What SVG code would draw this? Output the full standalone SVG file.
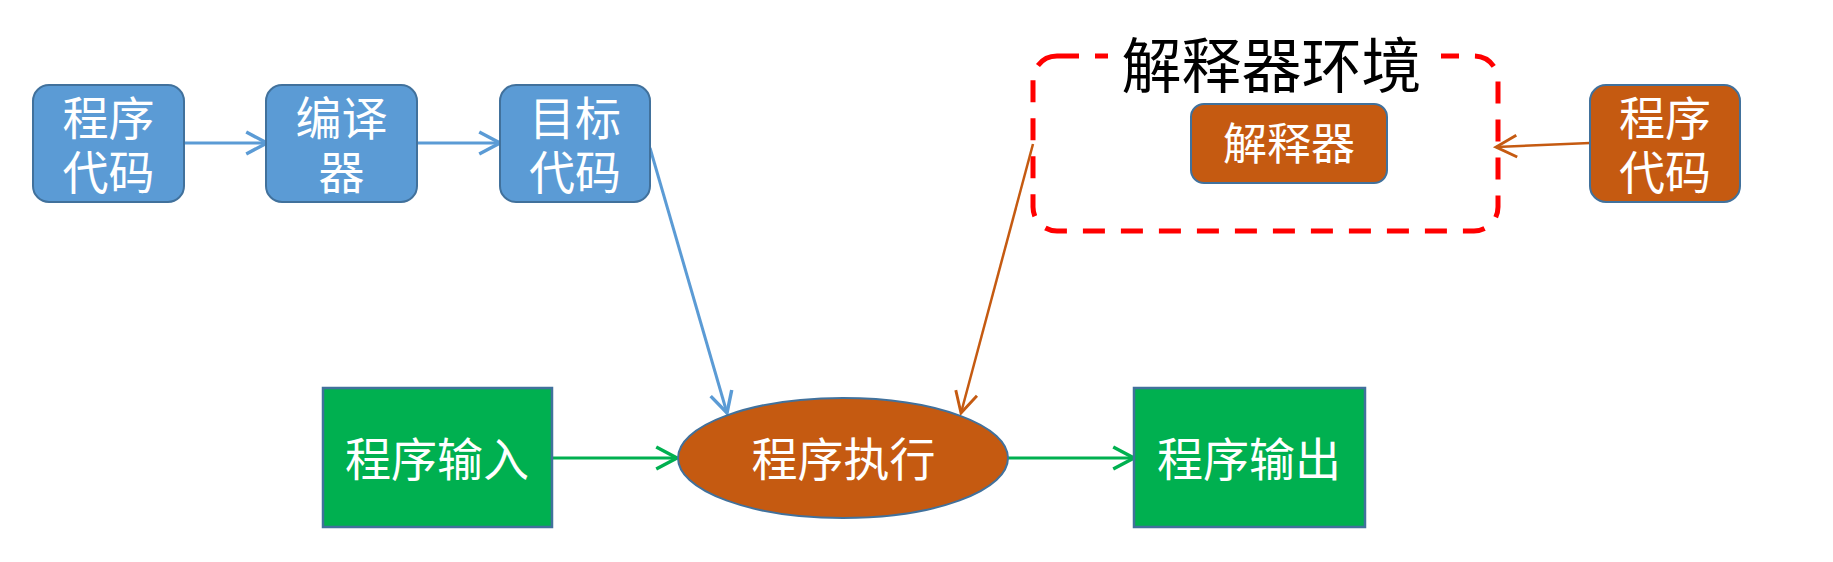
<svg xmlns="http://www.w3.org/2000/svg" width="1833" height="562" viewBox="0 0 1833 562">
<defs>
<style>
.t{font-family:"Noto Sans CJK SC","Noto Sans",sans-serif;text-anchor:middle}
.w{fill:#FFFFFF}
.blue{fill:#5B9BD5;stroke:#41719C;stroke-width:2}
.orange{fill:#C55A11;stroke:#41719C;stroke-width:2}
.green{fill:#00B050;stroke:#41719C;stroke-width:2.5}
.lb{stroke:#5B9BD5;stroke-width:3;fill:none}
.lo{stroke:#C55A11;stroke-width:2.5;fill:none}
.lg{stroke:#00B050;stroke-width:3;fill:none}
</style>
<marker id="ab" markerUnits="userSpaceOnUse" markerWidth="30" markerHeight="30" viewBox="-22 -12 26 24" refX="0" refY="0" orient="auto"><path d="M-18 -9.5 L0 0 L-18 9.5" fill="none" stroke="#5B9BD5" stroke-width="3"/></marker>
<marker id="ao" markerUnits="userSpaceOnUse" markerWidth="30" markerHeight="30" viewBox="-22 -12 26 24" refX="0" refY="0" orient="auto"><path d="M-18 -9.5 L0 0 L-18 9.5" fill="none" stroke="#C55A11" stroke-width="2.5"/></marker>
<marker id="ag" markerUnits="userSpaceOnUse" markerWidth="30" markerHeight="30" viewBox="-22 -12 26 24" refX="0" refY="0" orient="auto"><path d="M-18 -9.5 L0 0 L-18 9.5" fill="none" stroke="#00B050" stroke-width="3"/></marker>
<radialGradient id="smudge" cx="0.5" cy="0" r="0.5"><stop offset="0" stop-color="#c8c8c8"/><stop offset="1" stop-color="#ffffff" stop-opacity="0"/></radialGradient>
</defs>
<rect width="1833" height="562" fill="#FFFFFF"/>
<ellipse cx="180" cy="0" rx="150" ry="16" fill="url(#smudge)"/>

<g id="env">
<rect x="1033" y="56" width="465" height="175" rx="24" fill="none" stroke="#FF0000" stroke-width="5" stroke-dasharray="22 16"/>
<rect x="1108" y="40" width="333" height="40" fill="#FFFFFF"/>
<text class="t" x="1271.5" y="88" font-size="60" fill="#000000">解释器环境</text>
</g>

<g id="connectors">
<line class="lb" x1="184" y1="143" x2="267" y2="143" marker-end="url(#ab)"/>
<line class="lb" x1="416" y1="143" x2="500" y2="143" marker-end="url(#ab)"/>
<line class="lb" x1="650" y1="148" x2="727" y2="413" marker-end="url(#ab)"/>
<line class="lo" x1="1033" y1="144" x2="961" y2="413" marker-end="url(#ao)"/>
<line class="lo" x1="1590" y1="143" x2="1496" y2="147" marker-end="url(#ao)"/>
<line class="lg" x1="552" y1="458" x2="677" y2="458" marker-end="url(#ag)"/>
<line class="lg" x1="1008" y1="458" x2="1134" y2="458" marker-end="url(#ag)"/>
</g>

<g id="src1">
<rect class="blue" x="33" y="85" width="151" height="117" rx="16"/>
<text class="t w" font-size="46"><tspan x="108.5" y="135">程序</tspan><tspan x="108.5" y="189">代码</tspan></text>
</g>
<g id="compiler">
<rect class="blue" x="266" y="85" width="151" height="117" rx="16"/>
<text class="t w" font-size="46"><tspan x="341.5" y="135">编译</tspan><tspan x="341.5" y="189">器</tspan></text>
</g>
<g id="target">
<rect class="blue" x="500" y="85" width="150" height="117" rx="16"/>
<text class="t w" font-size="46"><tspan x="575" y="135">目标</tspan><tspan x="575" y="189">代码</tspan></text>
</g>
<g id="interpreter">
<rect class="orange" x="1191" y="104" width="196" height="79" rx="13"/>
<text class="t w" x="1289" y="160" font-size="44">解释器</text>
</g>
<g id="src2">
<rect class="orange" x="1590" y="85" width="150" height="117" rx="16"/>
<text class="t w" font-size="46"><tspan x="1665" y="135">程序</tspan><tspan x="1665" y="189">代码</tspan></text>
</g>
<g id="input">
<rect class="green" x="323" y="388" width="229" height="139"/>
<text class="t w" x="437" y="475.5" font-size="46">程序输入</text>
</g>
<g id="exec">
<ellipse class="orange" cx="843" cy="458" rx="165" ry="60"/>
<text class="t w" x="843.5" y="475.5" font-size="46">程序执行</text>
</g>
<g id="output">
<rect class="green" x="1134" y="388" width="231" height="139"/>
<text class="t w" x="1249" y="475.5" font-size="46">程序输出</text>
</g>
</svg>
